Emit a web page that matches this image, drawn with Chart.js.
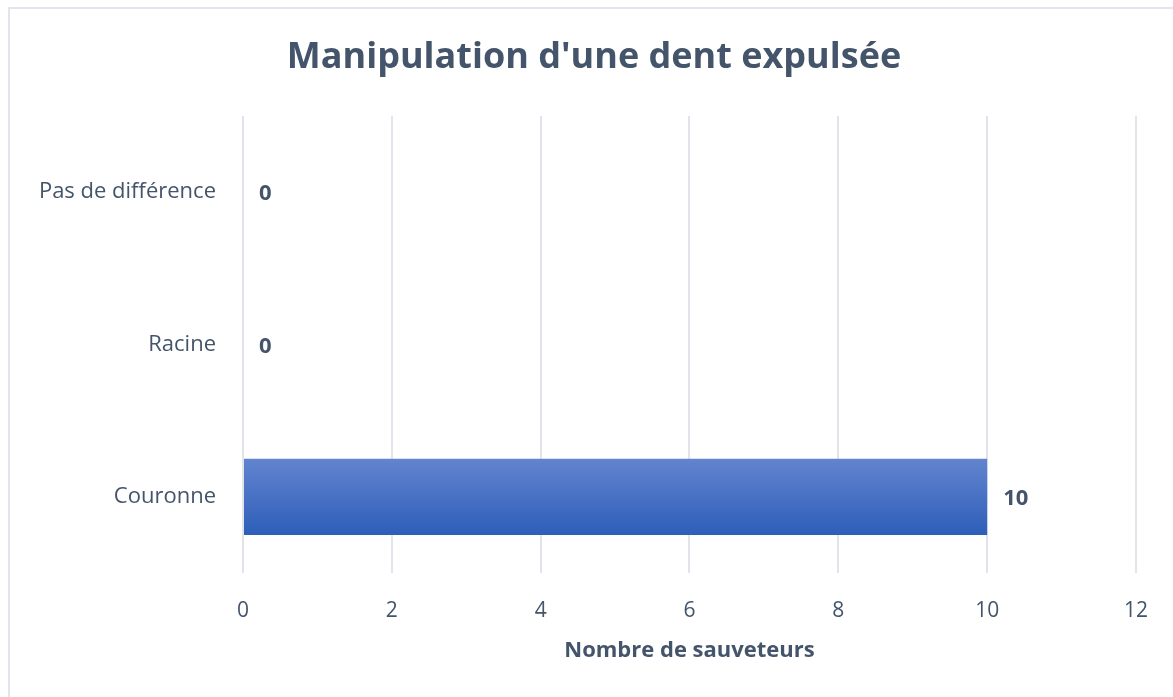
<!DOCTYPE html>
<html>
<head>
<meta charset="utf-8">
<script src="https://cdn.jsdelivr.net/npm/chart.js@4"></script>
<style>
  html, body { margin: 0; padding: 0; background: #fff; overflow: hidden; }
  #wrap { position: relative; width: 1173px; height: 697px; }
  #frame { position: absolute; left: 8px; top: 7px; width: 1200px; height: 750px;
           border: 2px solid #e2e5eb; box-sizing: border-box; pointer-events: none; }
</style>
</head>
<body>
<div id="wrap">
  <canvas id="myBar" width="1173" height="697"></canvas>
  <div id="frame"></div>
</div>
<script>
var categories = ['Pas de différence', 'Racine', 'Couronne'];
var sauveteurs = [0, 0, 10];
var xTicks = [0, 2, 4, 6, 8, 10, 12];
var chartTitle = "Manipulation d'une dent expulsée";

var textColor = '#44546A';
var fontName = "'Open Sans', sans-serif";

// bold value labels just past the end of each bar
var valueLabels = {
    id: 'valueLabels',
    afterDatasetsDraw: function (chart) {
        var ctx = chart.ctx;
        var meta = chart.getDatasetMeta(0);
        ctx.save();
        ctx.font = 'bold 22px ' + fontName;
        ctx.fillStyle = textColor;
        ctx.textAlign = 'left';
        ctx.textBaseline = 'middle';
        meta.data.forEach(function (bar, i) {
            ctx.fillText(String(sauveteurs[i]), bar.x + 16, bar.y + 2);
        });
        ctx.restore();
    }
};

// title is centred on the whole frame, not on the plot, so draw it here
var frameTitle = {
    id: 'frameTitle',
    afterDraw: function (chart) {
        var ctx = chart.ctx;
        ctx.save();
        ctx.font = 'bold 36px ' + fontName;
        ctx.fillStyle = textColor;
        ctx.textAlign = 'center';
        ctx.textBaseline = 'middle';
        ctx.fillText(chartTitle, 594, 58);
        ctx.restore();
    }
};

var ctxbar = document.getElementById('myBar').getContext('2d');
var myBarChart = new Chart(ctxbar, {
    type: 'bar',
    data: {
        labels: categories,
        datasets: [{
            data: sauveteurs,
            backgroundColor: function (context) {
                var chart = context.chart;
                var y = chart.scales.y;
                if (!y || !chart.chartArea) return '#4472C4';
                var c = y.getPixelForValue(context.dataIndex);
                var h = (y.height / categories.length) * 0.5;
                var g = chart.ctx.createLinearGradient(0, c - h / 2, 0, c + h / 2);
                g.addColorStop(0, '#6384cf');
                g.addColorStop(1, '#2d5eb9');
                return g;
            },
            borderWidth: 0,
            barPercentage: 0.5,
            categoryPercentage: 1
        }]
    },
    options: {
        indexAxis: 'y',
        responsive: false,
        animation: false,
        layout: { padding: { left: 0, right: 36, top: 116, bottom: 0 } },
        plugins: {
            legend: { display: false },
            tooltip: { enabled: false },
            title: { display: false }
        },
        scales: {
            x: {
                min: 0,
                max: 12,
                afterBuildTicks: function (scale) {
                    scale.ticks = xTicks.map(function (v) { return { value: v }; });
                },
                afterFit: function (scale) { scale.height = 124; },
                grid: { color: '#e1e4ea', lineWidth: 2, drawTicks: false },
                border: { display: false },
                ticks: {
                    color: textColor,
                    padding: 25,
                    font: { family: fontName, size: 21 }
                },
                title: {
                    display: true,
                    text: 'Nombre de sauveteurs',
                    color: textColor,
                    font: { family: fontName, size: 22, weight: 'bold' },
                    padding: { top: 0, bottom: 33 }
                }
            },
            y: {
                afterFit: function (scale) { scale.width = 243; },
                grid: { display: false, drawTicks: false },
                border: { display: false },
                ticks: {
                    color: textColor,
                    padding: 27,
                    font: { family: fontName, size: 22 }
                }
            }
        }
    },
    plugins: [valueLabels, frameTitle]
});
</script>
</body>
</html>
